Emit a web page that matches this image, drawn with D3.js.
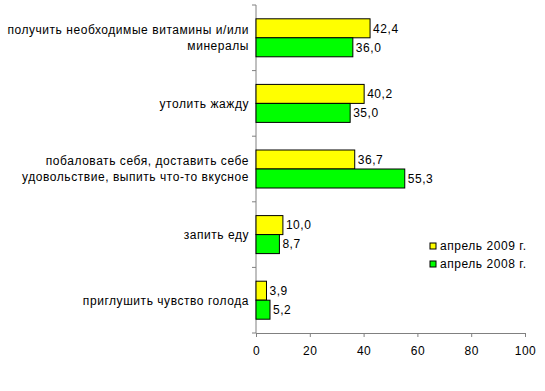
<!DOCTYPE html>
<html>
<head>
<meta charset="utf-8">
<script src="https://cdn.jsdelivr.net/npm/d3@7"></script>
<style>
body { margin: 0; background: #fff; }
text { font-family: Arial, "Liberation Sans", sans-serif; fill: #000; letter-spacing: 0.55px; }
</style>
</head>
<body>
<div id="chart"></div>
<script>
// categories, top to bottom (each entry is the label lines)
var categories = [
    ["получить необходимые витамины и/или", "минералы"],
    ["утолить жажду"],
    ["побаловать себя, доставить себе", "удовольствие, выпить что-то вкусное"],
    ["запить еду"],
    ["приглушить чувство голода"]
];
var values2009 = [42.4, 40.2, 36.7, 10.0, 3.9];
var values2008 = [36.0, 35.0, 55.3, 8.7, 5.2];
var seriesNames = ["апрель 2009 г.", "апрель 2008 г."];
var seriesColors = ["#ffff00", "#00ff00"];
var xTicks = [0, 20, 40, 60, 80, 100];

var width = 545, height = 391;
var margin = {top: 5, right: 20, bottom: 58, left: 256};
var w = width - margin.left - margin.right,
    h = height - margin.top - margin.bottom;

var svg = d3.select("#chart").append("svg")
    .attr("width", width)
    .attr("height", height);

var g = svg.append("g")
    .attr("transform", "translate(" + margin.left + "," + margin.top + ")");

var x = d3.scaleLinear().domain([0, 100]).range([0, w]);
var y = d3.scaleBand().domain(d3.range(categories.length)).range([0, h]);
var bandH = y.bandwidth();
var barH = 19;

// y axis line and ticks at band boundaries
g.append("line").attr("x1", 0).attr("x2", 0).attr("y1", 0).attr("y2", h)
    .attr("stroke", "#808080");
for (var i = 0; i <= categories.length; i++) {
    g.append("line").attr("x1", -4).attr("x2", 0)
        .attr("y1", i * bandH).attr("y2", i * bandH)
        .attr("stroke", "#808080");
}

// x axis
var xAxis = g.append("g")
    .attr("transform", "translate(0," + h + ")")
    .call(d3.axisBottom(x).tickValues(xTicks).tickSize(4).tickPadding(9));
xAxis.select(".domain").attr("stroke", "#808080");
xAxis.selectAll(".tick line").attr("stroke", "#808080");
xAxis.selectAll("text").style("font-size", "12px")
    .style("font-family", "Arial, 'Liberation Sans', sans-serif");

// bars
var series = [values2009, values2008];
series.forEach(function(vals, s) {
    var yOff = bandH / 2 - barH + s * barH;
    g.selectAll(".bar" + s).data(vals).enter().append("rect")
        .attr("x", 0)
        .attr("y", function(d, i) { return y(i) + yOff; })
        .attr("width", function(d) { return x(d); })
        .attr("height", barH)
        .attr("fill", seriesColors[s])
        .attr("stroke", "#000")
        .attr("stroke-width", 1);
    g.selectAll(".lbl" + s).data(vals).enter().append("text")
        .attr("x", function(d) { return x(d) + 3; })
        .attr("y", function(d, i) { return y(i) + yOff + barH / 2; })
        .attr("dy", "0.36em")
        .style("font-size", "12px")
        .text(function(d) { return d.toFixed(1).replace(".", ","); });
});

// category labels
categories.forEach(function(lines, i) {
    var cy = y(i) + bandH / 2;
    var t = g.append("text")
        .attr("text-anchor", "end")
        .style("font-size", "12px");
    lines.forEach(function(line, k) {
        t.append("tspan")
            .attr("x", -7)
            .attr("y", cy + (k - (lines.length - 1) / 2) * 16)
            .attr("dy", "0.36em")
            .text(line);
    });
});

// legend
var legend = svg.append("g").attr("transform", "translate(430,246)");
seriesNames.forEach(function(name, s) {
    legend.append("rect")
        .attr("x", 0).attr("y", s * 18 - 3)
        .attr("width", 6).attr("height", 6)
        .attr("fill", seriesColors[s])
        .attr("stroke", "#000");
    legend.append("text")
        .attr("x", 10).attr("y", s * 18)
        .attr("dy", "0.36em")
        .style("font-size", "12px")
        .text(name);
});
</script>
</body>
</html>
